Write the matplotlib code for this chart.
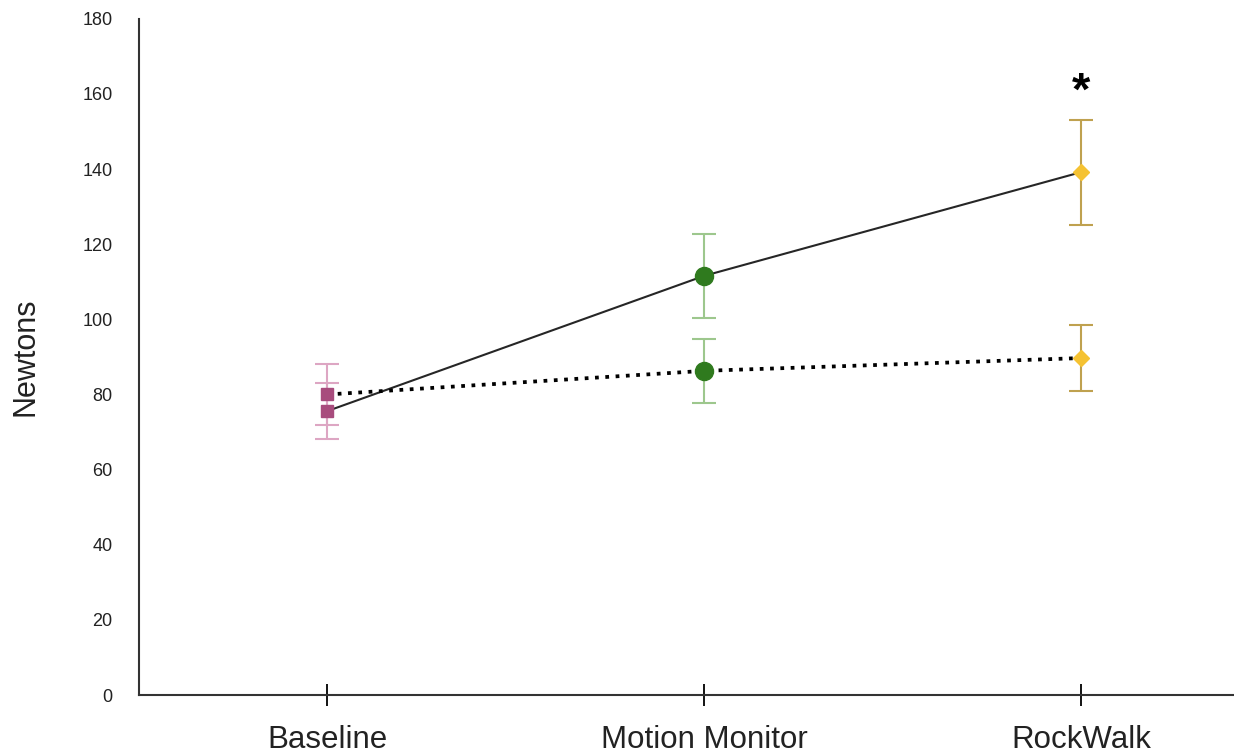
import matplotlib
matplotlib.use("Agg")
import matplotlib.pyplot as plt

plt.rcParams['font.family'] = ['Liberation Sans', 'DejaVu Sans']

categories = ["Baseline", "Motion Monitor", "RockWalk"]
solid_means = [75.6, 111.6, 139.2]
solid_err = [7.5, 11.2, 14.0]
dotted_means = [80.0, 86.3, 89.7]
dotted_err = [8.0, 8.5, 8.9]
yticks = [0, 20, 40, 60, 80, 100, 120, 140, 160, 180]

marker_colors = ["#A84C7D", "#2F7A1E", "#F5C232"]
bar_colors = ["#DDA6C3", "#9DC78D", "#BFA14F"]
marker_shapes = ["s", "o", "D"]
marker_sizes = [9, 13, 8]

fig = plt.figure(figsize=(12.34, 7.53), dpi=100)
ax = fig.add_axes([0.1126, 0.077, 0.8874, 0.898])

x = list(range(len(categories)))

# connecting lines
ax.plot(x, solid_means, color="#262626", lw=1.5, zorder=2)
ax.plot(x, dotted_means, color="black", lw=2.7, linestyle=(0, (1.0, 1.75)),
        dash_capstyle="butt", zorder=2)

# error bars and markers per condition
for i in x:
    for means, errs in ((solid_means, solid_err), (dotted_means, dotted_err)):
        ax.errorbar(x[i], means[i], yerr=errs[i], fmt="none",
                    ecolor=bar_colors[i], elinewidth=1.5, capsize=8.5,
                    capthick=1.5, zorder=1)
        ax.plot(x[i], means[i], marker=marker_shapes[i], ms=marker_sizes[i],
                color=marker_colors[i], mec=marker_colors[i], ls="none", zorder=3)

# significance marker
ax.text(2, 154.6, "*", ha="center", va="bottom", fontsize=34, fontweight="bold")

ax.set_xlim(-0.5, 2.405)
ax.set_ylim(0, 180)
ax.set_yticks(yticks)
ax.set_xticks(x)
ax.set_xticklabels(categories, fontsize=22.5)
ax.tick_params(axis="y", length=0, pad=19, labelsize=13, labelcolor="#222222")
ax.tick_params(axis="x", direction="inout", length=16.5, width=1.3, pad=13,
               labelcolor="#222222")
ax.set_ylabel("Newtons", fontsize=22, labelpad=30, color="#222222")

for side in ("top", "right"):
    ax.spines[side].set_visible(False)
for side in ("left", "bottom"):
    ax.spines[side].set_linewidth(1.5)
    ax.spines[side].set_color("#333333")

fig.savefig("out.png", dpi=100)
